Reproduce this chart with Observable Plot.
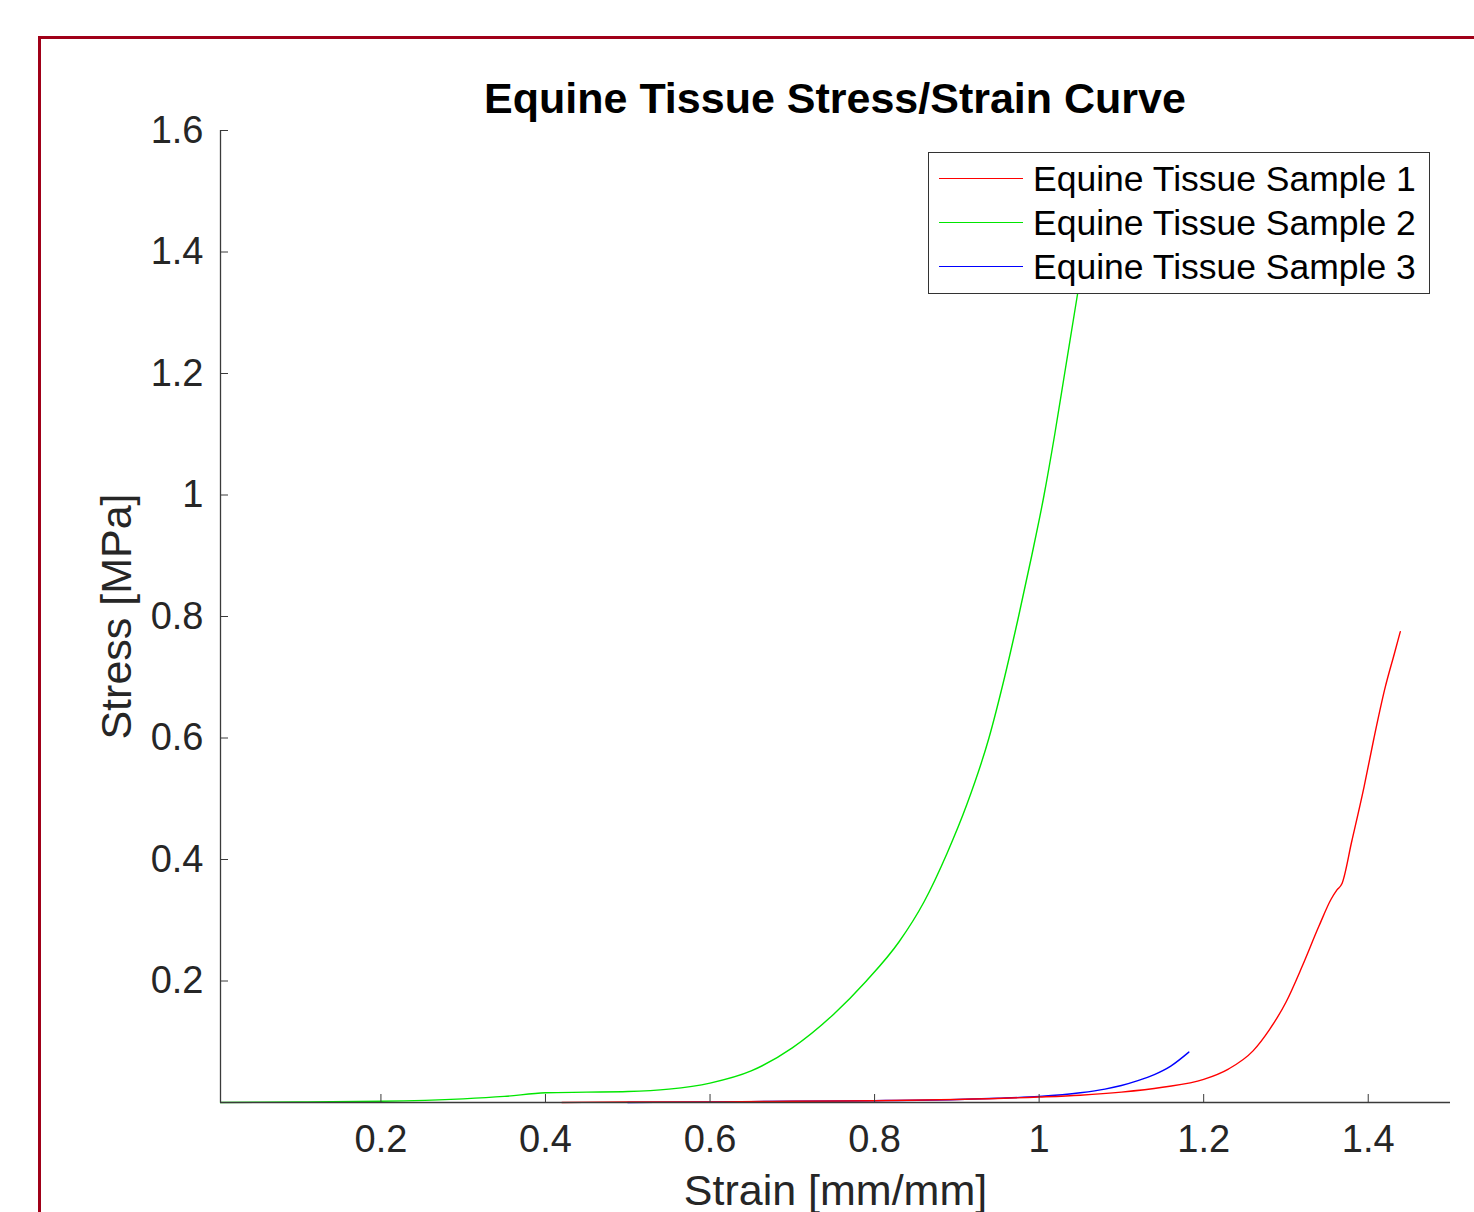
<!DOCTYPE html>
<html>
<head>
<meta charset="utf-8">
<script src="https://cdn.jsdelivr.net/npm/d3@7"></script>
<script src="https://cdn.jsdelivr.net/npm/@observablehq/plot@0.6"></script>
<style>
  html, body { margin: 0; padding: 0; background: #fff; }
  #wrap { position: relative; width: 1474px; height: 1212px; overflow: hidden; background: #fff; font-family: "Liberation Sans", Arial, sans-serif; }
  #frame { position: absolute; left: 38px; top: 36px; width: 3000px; height: 3000px; border-left: 3px solid #a00018; border-top: 3px solid #a00018; }
  #title { position: absolute; left: 0; width: 1670px; top: 72px; text-align: center; font-weight: bold; font-size: 43px; color: #000; line-height: 52px; }
  #chart { position: absolute; left: 0; top: 0; }
  #legend { position: absolute; left: 928px; top: 152px; width: 500px; height: 140px; border: 1px solid #333; background: #fff; }
  .row { position: absolute; left: 0; height: 44px; width: 500px; }
  .sw { position: absolute; left: 10px; width: 84px; top: 21px; height: 0; border-top: 1.3px solid; }
  .lt { position: absolute; left: 104px; top: 0; font-size: 35.5px; line-height: 44px; color: #000; white-space: nowrap; }
</style>
</head>
<body>
<div id="wrap">
  <div id="frame"></div>
  <div id="chart"></div>
  <div id="title"></div>
  <div id="legend"></div>
</div>
<script>
const titleText = "Equine Tissue Stress/Strain Curve";
const xLabel = "Strain [mm/mm]";
const yLabel = "Stress [MPa]";
const seriesNames = ["Equine Tissue Sample 1", "Equine Tissue Sample 2", "Equine Tissue Sample 3"];
const seriesColors = ["#ff0000", "#00e600", "#0000ff"];
const xTicks = [0.2, 0.4, 0.6, 0.8, 1.0, 1.2, 1.4];
const yTicks = [0.2, 0.4, 0.6, 0.8, 1.0, 1.2, 1.4, 1.6];
const xDomain = [0.005, 1.5];
const yDomain = [0, 1.6];

// Sample 1 (red)
const strain1 = [0.42, 0.5, 0.6, 0.7, 0.8, 0.9, 1.0, 1.05, 1.1, 1.15, 1.2, 1.23, 1.26, 1.28, 1.3, 1.32, 1.34, 1.355, 1.362, 1.368, 1.38, 1.395, 1.407, 1.42, 1.432, 1.439];
const stress1 = [0, 0.001, 0.001, 0.002, 0.003, 0.005, 0.009, 0.012, 0.017, 0.025, 0.038, 0.055, 0.085, 0.12, 0.165, 0.225, 0.29, 0.335, 0.35, 0.36, 0.43, 0.52, 0.6, 0.68, 0.74, 0.775];
// Sample 2 (green)
const strain2 = [0.005, 0.1, 0.2, 0.3, 0.35, 0.4, 0.45, 0.5, 0.55, 0.6, 0.65, 0.7, 0.75, 0.79, 0.83, 0.86, 0.888, 0.912, 0.939, 0.958, 0.975, 0.991, 1.006, 1.019, 1.031, 1.043, 1.055];
const stress2 = [0, 0.001, 0.002, 0.006, 0.01, 0.016, 0.017, 0.018, 0.022, 0.032, 0.052, 0.09, 0.145, 0.2, 0.265, 0.33, 0.41, 0.49, 0.6, 0.7, 0.8, 0.9, 1.0, 1.1, 1.2, 1.3, 1.4];
// Sample 3 (blue)
const strain3 = [0.5, 0.6, 0.7, 0.8, 0.9, 0.95, 1.0, 1.05, 1.08, 1.1, 1.12, 1.14, 1.16, 1.182];
const stress3 = [0, 0.001, 0.002, 0.003, 0.005, 0.007, 0.01, 0.016, 0.022, 0.028, 0.036, 0.046, 0.06, 0.083];

const toRows = (xs, ys) => xs.map((x, i) => ({x, y: ys[i]}));
const s1 = toRows(strain1, stress1);
const s2 = toRows(strain2, stress2);
const s3 = toRows(strain3, stress3);

const fmt = d => String(+d.toFixed(1));
const axisColor = "#3a3a3a";
const textColor = "#262626";

const chart = Plot.plot({
  width: 1474,
  height: 1212,
  marginLeft: 220,
  marginRight: 24,
  marginTop: 130,
  marginBottom: 110,
  style: { fontFamily: "'Liberation Sans', Arial, sans-serif", background: "transparent", overflow: "visible" },
  x: { domain: xDomain },
  y: { domain: yDomain },
  marks: [
    Plot.line(s2, {x: "x", y: "y", stroke: seriesColors[1], strokeWidth: 1.4, curve: "monotone-x"}),
    Plot.line(s3, {x: "x", y: "y", stroke: seriesColors[2], strokeWidth: 1.4, curve: "monotone-x"}),
    Plot.line(s1, {x: "x", y: "y", stroke: seriesColors[0], strokeWidth: 1.4, curve: "monotone-x"}),
    Plot.ruleY([yDomain[0]], {stroke: axisColor, strokeWidth: 1.3}),
    Plot.ruleX([xDomain[0]], {stroke: axisColor, strokeWidth: 1.3}),
    Plot.axisX(xTicks, {tickSize: -8, tickPadding: 31, tickFormat: fmt, fontSize: 38, color: textColor, stroke: axisColor, label: null}),
    Plot.axisY(yTicks, {tickSize: -8, tickPadding: 25, tickFormat: fmt, fontSize: 38, color: textColor, stroke: axisColor, label: null}),
    Plot.text([xLabel], {frameAnchor: "bottom", dy: 102, fontSize: 43, fill: textColor, textAnchor: "middle"}),
    Plot.text([yLabel], {frameAnchor: "left", dx: -103, rotate: -90, fontSize: 43, fill: textColor, textAnchor: "middle"})
  ]
});
document.getElementById("chart").appendChild(chart);

document.getElementById("title").textContent = titleText;

const legend = document.getElementById("legend");
seriesNames.forEach((name, i) => {
  const row = document.createElement("div");
  row.className = "row";
  row.style.top = (4 + i * 44) + "px";
  const sw = document.createElement("div");
  sw.className = "sw";
  sw.style.borderTopColor = seriesColors[i];
  const lt = document.createElement("div");
  lt.className = "lt";
  lt.textContent = name;
  row.appendChild(sw);
  row.appendChild(lt);
  legend.appendChild(row);
});
</script>
</body>
</html>
